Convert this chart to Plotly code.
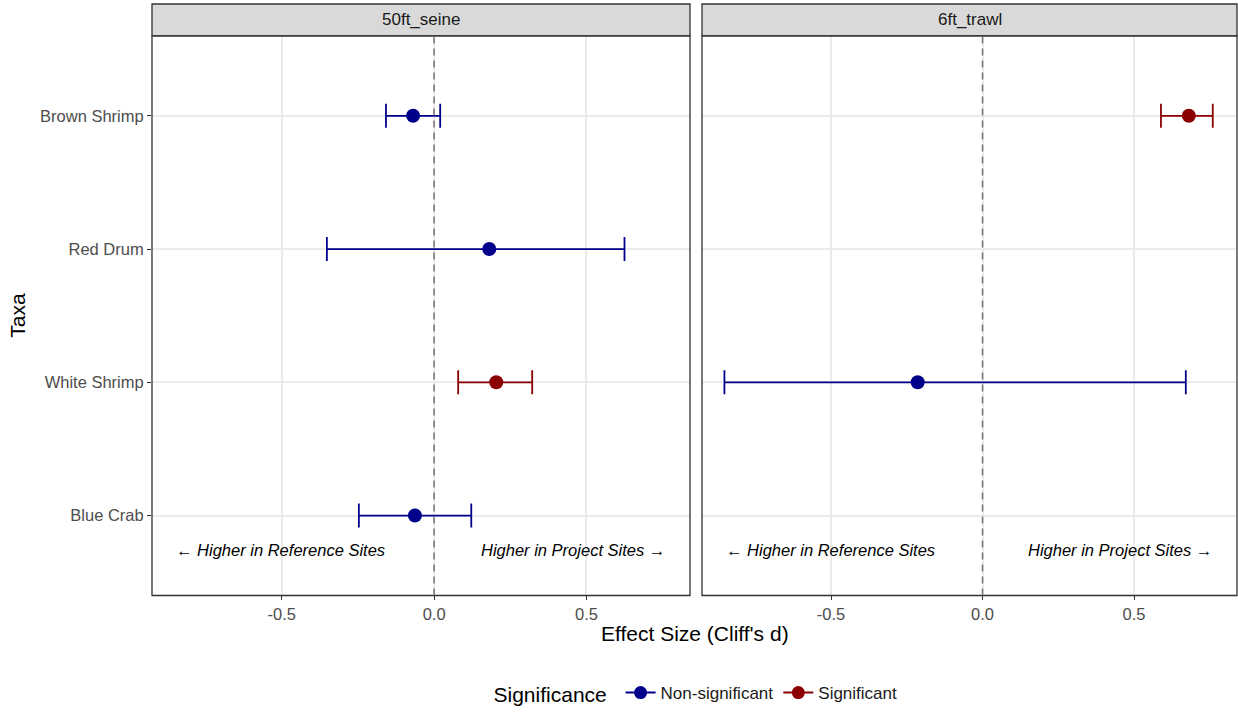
import plotly.graph_objects as go

# Taxa, listed top to bottom on the y axis
taxa = ["Brown Shrimp", "Red Drum", "White Shrimp", "Blue Crab"]
taxa_pos = [4, 3, 2, 1]

# Gear panels
gears = ["50ft_seine", "6ft_trawl"]

# Cliff's d estimates with confidence bounds per gear
seine_taxa = ["Brown Shrimp", "Red Drum", "White Shrimp", "Blue Crab"]
seine_d = [-0.069, 0.181, 0.204, -0.063]
seine_lo = [-0.158, -0.352, 0.079, -0.247]
seine_hi = [0.020, 0.625, 0.322, 0.122]
seine_sig = ["Non-significant", "Non-significant", "Significant", "Non-significant"]

trawl_taxa = ["Brown Shrimp", "White Shrimp"]
trawl_d = [0.681, -0.214]
trawl_lo = [0.589, -0.852]
trawl_hi = [0.760, 0.671]
trawl_sig = ["Significant", "Non-significant"]

sig_levels = ["Non-significant", "Significant"]
sig_colors = {"Non-significant": "#00008B", "Significant": "#8B0000"}

x_ticks = [-0.5, 0.0, 0.5]
x_tick_text = ["-0.5", "0.0", "0.5"]

FONT = "Liberation Sans, Arial, Helvetica, sans-serif"
pos_of = dict(zip(taxa, taxa_pos))

fig = go.Figure()

panels = [
    ("x", "y", seine_taxa, seine_d, seine_lo, seine_hi, seine_sig),
    ("x2", "y2", trawl_taxa, trawl_d, trawl_lo, trawl_hi, trawl_sig),
]
for xa, ya, tx, d, lo, hi, sig in panels:
    for level in sig_levels:
        idx = [i for i, s in enumerate(sig) if s == level]
        if not idx:
            continue
        xs = [d[i] for i in idx]
        ys = [pos_of[tx[i]] for i in idx]
        plus = [hi[i] - d[i] for i in idx]
        minus = [d[i] - lo[i] for i in idx]
        fig.add_trace(go.Scatter(
            x=xs, y=ys, xaxis=xa, yaxis=ya, mode="markers",
            marker=dict(color=sig_colors[level], size=14),
            error_x=dict(type="data", array=plus, arrayminus=minus,
                         color=sig_colors[level], thickness=1.8, width=12),
            showlegend=False, name=level, legendgroup=level,
        ))

# Legend entries drawn as point-with-line keys
for level in sig_levels:
    fig.add_trace(go.Scatter(
        x=[None], y=[None], mode="lines+markers", name=level, legendgroup=level,
        marker=dict(color=sig_colors[level], size=13),
        line=dict(color=sig_colors[level], width=2),
    ))

W, H = 1238, 713
x1_dom = [152 / W, 690 / W]
x2_dom = [702 / W, 1237 / W]
y_dom = [1 - 598 / H, 1 - 36 / H]
strip_top = 1 - 4 / H
x_range = [-0.926, 0.840]
y_range = [0.4, 4.6]

axis_common = dict(
    showgrid=True, gridcolor="#EBEBEB", gridwidth=2, zeroline=False,
    showline=False, ticks="outside", ticklen=4, tickcolor="#333333", tickwidth=1,
    tickfont=dict(family=FONT, size=16.5, color="#4D4D4D"),
)

fig.update_layout(
    width=W, height=H,
    margin=dict(l=0, r=0, t=0, b=0),
    paper_bgcolor="white", plot_bgcolor="white",
    font=dict(family=FONT),
    xaxis=dict(domain=x1_dom, range=x_range, anchor="y", tickvals=x_ticks,
               ticktext=x_tick_text, **axis_common),
    xaxis2=dict(domain=x2_dom, range=x_range, anchor="y2", tickvals=x_ticks,
                ticktext=x_tick_text, **axis_common),
    yaxis=dict(domain=y_dom, range=y_range, anchor="x", tickvals=taxa_pos,
               ticktext=taxa, **axis_common),
    yaxis2=dict(domain=y_dom, range=y_range, anchor="x2", tickvals=taxa_pos,
                ticktext=taxa, showticklabels=False,
                **{k: v for k, v in axis_common.items() if k not in ("ticks",)}),
    legend=dict(orientation="h", x=697 / W, xanchor="center", y=1 - 697 / H,
                yanchor="middle", font=dict(family=FONT, size=17, color="#1A1A1A"),
                title=dict(text="Significance ", font=dict(family=FONT, size=21, color="black"),
                           side="left"),
                itemwidth=30, tracegroupgap=0),
)

shapes = []
annotations = []
for (dom, xa, ya, gear) in [(x1_dom, "x", "y", gears[0]), (x2_dom, "x2", "y2", gears[1])]:
    # strip background
    shapes.append(dict(type="rect", xref="paper", yref="paper", x0=dom[0], x1=dom[1],
                       y0=y_dom[1], y1=strip_top, fillcolor="#D9D9D9",
                       line=dict(color="#333333", width=1.3), layer="above"))
    # panel border
    shapes.append(dict(type="rect", xref="paper", yref="paper", x0=dom[0], x1=dom[1],
                       y0=y_dom[0], y1=y_dom[1], fillcolor="rgba(0,0,0,0)",
                       line=dict(color="#333333", width=1.3), layer="above"))
    # zero reference line, drawn over the grid and the intervals
    shapes.append(dict(type="line", xref=xa, yref=ya + " domain", x0=0, x1=0, y0=0, y1=1,
                       line=dict(color="#7A7A7A", width=1.6, dash="7px,5px"), layer="above"))
    annotations.append(dict(text=gear, xref="paper", yref="paper",
                            x=(dom[0] + dom[1]) / 2, y=(y_dom[1] + strip_top) / 2,
                            showarrow=False, xanchor="center", yanchor="middle",
                            font=dict(family=FONT, size=17, color="#1A1A1A")))
    annotations.append(dict(text="<i>← Higher in Reference Sites</i>", xref=xa, yref=ya,
                            x=-0.855, y=0.74, showarrow=False, xanchor="left",
                            yanchor="middle", font=dict(family=FONT, size=16.5, color="black")))
    annotations.append(dict(text="<i>Higher in Project Sites →</i>", xref=xa, yref=ya,
                            x=0.765, y=0.74, showarrow=False, xanchor="right",
                            yanchor="middle", font=dict(family=FONT, size=16.5, color="black")))

annotations.append(dict(text="Effect Size (Cliff's d)", xref="paper", yref="paper",
                        x=695 / W, y=1 - 636 / H, showarrow=False, xanchor="center",
                        yanchor="middle", font=dict(family=FONT, size=21, color="black")))
annotations.append(dict(text="Taxa", xref="paper", yref="paper", x=18 / W,
                        y=(y_dom[0] + y_dom[1]) / 2, showarrow=False, textangle=-90,
                        xanchor="center", yanchor="middle",
                        font=dict(family=FONT, size=21, color="black")))

fig.update_layout(shapes=shapes, annotations=annotations)
fig.write_html("out.html")
